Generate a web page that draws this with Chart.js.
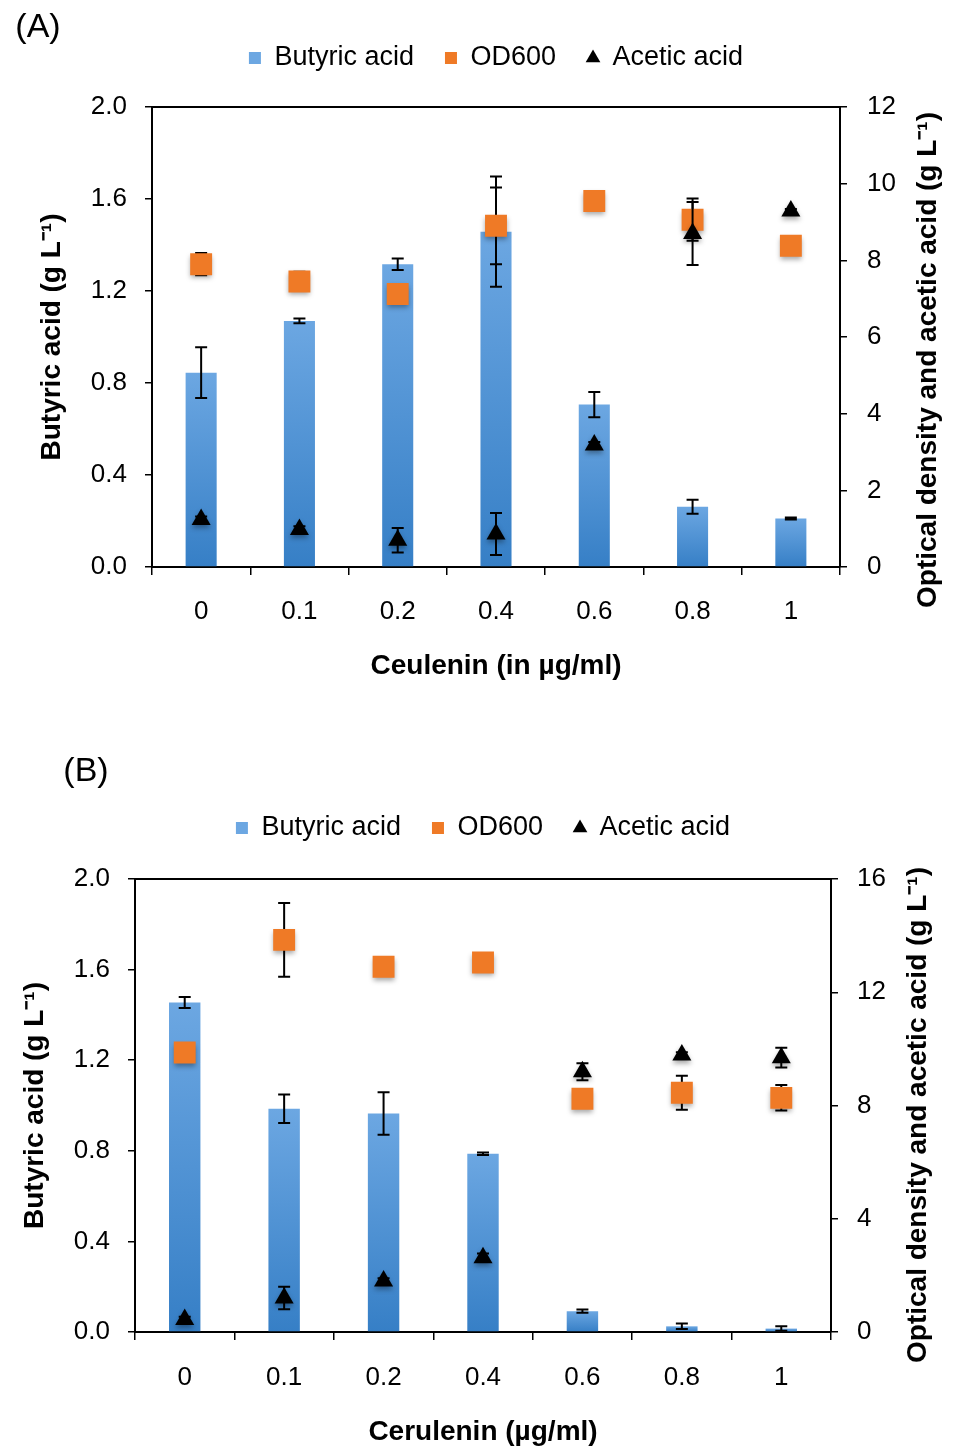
<!DOCTYPE html>
<html>
<head>
<meta charset="utf-8">
<script src="https://cdn.jsdelivr.net/npm/chart.js@4.4.1/dist/chart.umd.min.js"></script>
<style>
  body { margin: 0; background: #fff; }
  canvas { display: block; }
</style>
</head>
<body>
<canvas id="chartA" width="953" height="700"></canvas>
<canvas id="chartB" width="953" height="750"></canvas>
<script>
// cerulenin doses (µg/ml)
const doses = ['0', '0.1', '0.2', '0.4', '0.6', '0.8', '1']

// panel A
const butyricA = [0.845, 1.07, 1.316, 1.458, 0.706, 0.262, 0.211]
const butyricErrA = [0.11, 0.01, 0.025, 0.24, 0.055, 0.03, 0.004]
const odA = [7.90, 7.45, 7.12, 8.90, 9.55, 9.06, 8.38]
const odErrA = [0.29, 0.25, 0, 1.0, 0, 0.55, 0]
const aceticA = [1.24, 0.98, 0.70, 0.86, 3.18, 8.70, 9.29]
const aceticErrA = [0.08, 0.08, 0.32, 0.55, 0.08, 0.82, 0.05]

// panel B
const butyricB = [1.455, 0.986, 0.965, 0.787, 0.092, 0.025, 0.015]
const butyricErrB = [0.024, 0.063, 0.094, 0.005, 0.007, 0.012, 0.01]
const odB = [9.87, 13.85, 12.9, 13.05, 8.24, 8.45, 8.27]
const odErrB = [0, 1.3, 0, 0.1, 0, 0.6, 0.45]
const aceticB = [0.44, 1.2, 1.8, 2.62, 9.19, 9.78, 9.69]
const aceticErrB = [0.1, 0.4, 0.1, 0.15, 0.3, 0.1, 0.35]

const FONT = '"Liberation Sans", Arial, Helvetica, sans-serif'

function barFill(c) {
  const chart = c.chart
  const area = chart.chartArea
  if (!area || c.type !== 'data') return '#4a8fd8'
  const y = chart.scales.y.getPixelForValue(c.raw)
  const g = chart.ctx.createLinearGradient(0, y, 0, area.bottom)
  g.addColorStop(0, '#6ca7e2')
  g.addColorStop(1, '#367fc6')
  return g
}

function drawErrors(chart, meta, ds) {
  if (!ds.errors) return
  const ctx = chart.ctx
  const scale = chart.scales[meta.yAxisID]
  ctx.save()
  ctx.strokeStyle = '#000'
  ctx.lineWidth = 2
  meta.data.forEach((el, i) => {
    const e = ds.errors[i]
    if (!e) return
    const v = ds.data[i]
    const yt = scale.getPixelForValue(v + e)
    const yb = scale.getPixelForValue(v - e)
    const x = el.x
    ctx.beginPath()
    ctx.moveTo(x, yt); ctx.lineTo(x, yb)
    ctx.moveTo(x - 6, yt); ctx.lineTo(x + 6, yt)
    ctx.moveTo(x - 6, yb); ctx.lineTo(x + 6, yb)
    ctx.stroke()
  })
  ctx.restore()
}

const errorBars = {
  id: 'errorBars',
  beforeDatasetDraw(chart, args) {
    const ds = chart.data.datasets[args.index]
    if (ds.type === 'line') {
      drawErrors(chart, args.meta, ds)
      chart.ctx.save()
      chart.ctx.shadowColor = 'rgba(0,0,0,0.35)'
      chart.ctx.shadowBlur = 5
      chart.ctx.shadowOffsetY = 3
    }
  },
  afterDatasetDraw(chart, args) {
    const ds = chart.data.datasets[args.index]
    if (ds.type === 'line') chart.ctx.restore()
    else drawErrors(chart, args.meta, ds)
  }
}

// more room under the legend
const legendGap = {
  id: 'legendGap',
  beforeInit(chart, args, opts) {
    const fit = chart.legend.fit
    chart.legend.fit = function () {
      fit.call(this)
      this.height += opts.gap
    }
  }
}

// panel letter, right axis title (reads bottom to top) and top frame line
const extras = {
  id: 'extras',
  afterDraw(chart, args, opts) {
    const ctx = chart.ctx
    const area = chart.chartArea
    ctx.save()
    ctx.strokeStyle = '#000'
    ctx.lineWidth = 2
    ctx.beginPath()
    ctx.moveTo(area.left, area.top)
    ctx.lineTo(area.right, area.top)
    ctx.stroke()

    ctx.fillStyle = '#000'
    ctx.textAlign = 'center'
    ctx.textBaseline = 'middle'
    ctx.font = '34px ' + FONT
    ctx.fillText(opts.panel, opts.px, opts.py)

    ctx.font = 'bold 28px ' + FONT
    ctx.translate(opts.sx, opts.sy)
    ctx.rotate(-Math.PI / 2)
    ctx.fillText(opts.side, 0, 0)
    ctx.restore()
  }
}

function makeChart(id, p) {
  const ctx = document.getElementById(id).getContext('2d')
  const tickFont = { family: FONT, size: 26 }
  const titleFont = { family: FONT, size: 28, weight: 'bold' }
  return new Chart(ctx, {
    type: 'bar',
    data: {
      labels: doses,
      datasets: [
        {
          type: 'bar', label: 'Butyric acid', data: p.butyric, errors: p.butyricErr,
          yAxisID: 'y', order: 3, backgroundColor: barFill, pointStyle: 'rect',
          barPercentage: 0.316, categoryPercentage: 1
        },
        {
          type: 'line', label: 'OD600', data: p.od, errors: p.odErr,
          yAxisID: 'y2', order: 2, showLine: false, pointStyle: 'rect',
          pointRadius: 15.5, pointHoverRadius: 15.5, pointBorderWidth: 0,
          backgroundColor: '#ef7a26', borderColor: '#ef7a26'
        },
        {
          type: 'line', label: 'Acetic acid', data: p.acetic, errors: p.aceticErr,
          yAxisID: 'y2', order: 1, showLine: false, pointStyle: 'triangle',
          pointRadius: 11, pointHoverRadius: 11, pointBorderWidth: 0,
          backgroundColor: '#000', borderColor: '#000'
        }
      ]
    },
    options: {
      responsive: false,
      animation: false,
      layout: { padding: { top: p.legendTop, left: 0, right: 0, bottom: 0 } },
      plugins: {
        tooltip: { enabled: false },
        legend: {
          position: 'top',
          fullSize: false,
          labels: {
            usePointStyle: true, boxWidth: 12, boxHeight: 12, padding: 31,
            color: '#000', font: { family: FONT, size: 27 },
            sort: (a, b) => a.datasetIndex - b.datasetIndex
          }
        },
        legendGap: { gap: p.gap },
        extras: { panel: p.panel, px: p.px, py: p.py, side: 'Optical density and acetic acid (g L⁻¹)', sx: p.sx, sy: p.sy }
      },
      scales: {
        x: {
          grid: { drawOnChartArea: false, offset: true, tickLength: 8, color: '#000', lineWidth: 1.5 },
          border: { color: '#000', width: 2 },
          ticks: { color: '#000', font: tickFont, padding: p.xPad },
          title: { display: true, text: p.xTitle, color: '#000', font: titleFont, padding: { top: 0, bottom: p.xTitlePad } },
          afterFit(s) { s.height = p.xHeight }
        },
        y: {
          position: 'left', min: 0, max: 2,
          grid: { drawOnChartArea: false, tickLength: 7, color: '#000', lineWidth: 1.5 },
          border: { color: '#000', width: 2 },
          ticks: { stepSize: 0.4, color: '#000', font: tickFont, padding: 18, callback: v => v.toFixed(1) },
          title: { display: true, text: 'Butyric acid (g L⁻¹)', color: '#000', font: titleFont, padding: { top: p.yTitlePad, bottom: 0 } },
          afterFit(s) { s.width = p.left }
        },
        y2: {
          position: 'right', min: 0, max: p.rightMax,
          grid: { drawOnChartArea: false, tickLength: 7, color: '#000', lineWidth: 1.5 },
          border: { color: '#000', width: 2 },
          ticks: { stepSize: p.rightStep, color: '#000', font: tickFont, padding: p.rPad },
          afterFit(s) { s.width = 953 - p.right }
        }
      }
    },
    plugins: [errorBars, legendGap, extras]
  })
}

makeChart('chartA', {
  butyric: butyricA, butyricErr: butyricErrA, od: odA, odErr: odErrA, acetic: aceticA, aceticErr: aceticErrA,
  rightMax: 12, rightStep: 2, xTitle: 'Ceulenin (in µg/ml)',
  left: 152, right: 840, legendTop: 13.5, gap: 25.5, xHeight: 133, xPad: 21, xTitlePad: 17,
  yTitlePad: 35, rPad: 20, panel: '(A)', px: 38, py: 28, sx: 928, sy: 360
})

makeChart('chartB', {
  butyric: butyricB, butyricErr: butyricErrB, od: odB, odErr: odErrB, acetic: aceticB, aceticErr: aceticErrB,
  rightMax: 16, rightStep: 4, xTitle: 'Cerulenin (µg/ml)',
  left: 135, right: 831, legendTop: 83.5, gap: 27.5, xHeight: 118, xPad: 22, xTitlePad: 1,
  yTitlePad: 18, rPad: 19, panel: '(B)', px: 86, py: 72, sx: 918, sy: 415
})
</script>
</body>
</html>
